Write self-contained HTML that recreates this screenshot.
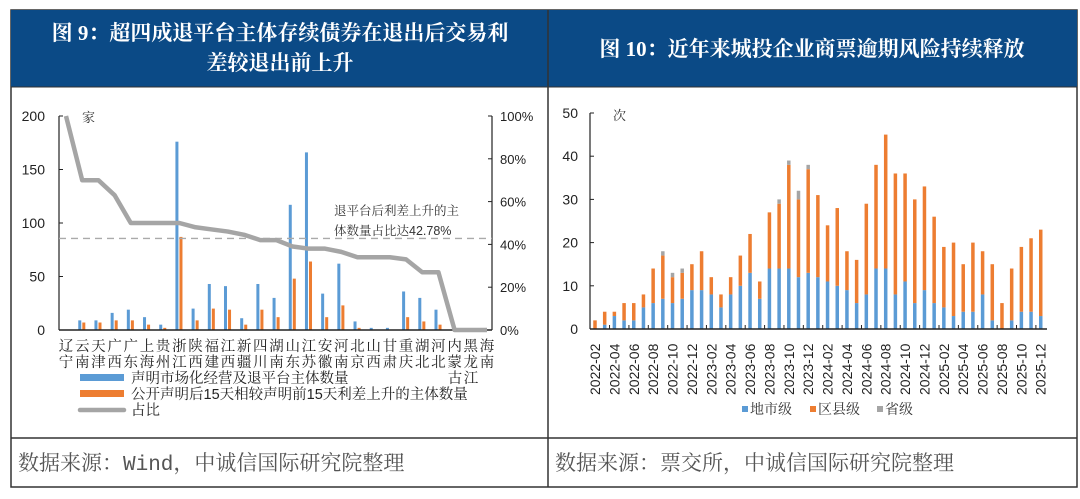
<!DOCTYPE html>
<html><head><meta charset="utf-8"><style>
body{margin:0;background:#fff;width:1080px;height:494px;overflow:hidden;font-family:"Liberation Sans","Noto Sans CJK SC",sans-serif}
svg text{font-family:"Liberation Sans","Noto Sans CJK SC",sans-serif}
svg text.cj{font-family:"Liberation Sans","Noto Serif CJK SC",serif}
.t{font-family:"Liberation Serif","Noto Serif CJK SC",serif !important;font-weight:bold;fill:#fff;font-size:21px}
.src{font-family:"Liberation Mono","Noto Serif CJK SC",serif !important;font-size:21px;fill:#555}
</style></head><body>
<svg id="s" width="1080" height="494">
<rect x="11" y="10" width="1066" height="477" fill="#fff" stroke="#333" stroke-width="1.5"/>
<rect x="11" y="10" width="1066" height="77" fill="#0b4a86"/>
<line x1="548" y1="10" x2="548" y2="487" stroke="#333" stroke-width="1.5"/>
<line x1="11" y1="87" x2="1077" y2="87" stroke="#333"/>
<line x1="11" y1="438" x2="1077" y2="438" stroke="#333" stroke-width="1.5"/>
<text class="t" x="280" y="40" text-anchor="middle">图 9：超四成退平台主体存续债券在退出后交易利</text>
<text class="t" x="280" y="70" text-anchor="middle">差较退出前上升</text>
<text class="t" x="812" y="56" text-anchor="middle">图 10：近年来城投企业商票逾期风险持续释放</text>
<text class="src" x="18" y="470">数据来源：Wind，中诚信国际研究院整理</text>
<text class="src" x="555" y="470">数据来源：票交所，中诚信国际研究院整理</text>
<g id="L"></g><g id="R"></g>
</svg>
<script>
// Left chart data
const provTop=["辽","云","天","广","广","上","贵","浙","陕","福","江","新","四","湖","山","江","安","河","北","山","甘","重","湖","河","内","黑","海"];
const provBot=["宁","南","津","西","东","海","州","江","西","建","西","疆","川","南","东","苏","徽","南","京","西","肃","庆","北","北","蒙","龙","南"];
const exitCount=[9,9,16,19,12,5,176,20,43,41,11,43,30,117,166,34,62,8,2,2,36,30,19,0,0,0,0];
const riseCount=[7,7,9,9,5,2,87,9,20,19,5,19,12,48,64,12,23,2,0,0,12,8,5,0,0,0,0];
const ratio=[100,70,70,63,50,50,50,50,48,47,46,44.5,42,42,39,38,38,36.5,34,34,34,33,27,27,0,0,0];
const leftTicks=[0,50,100,150,200];
const rightTicks=[0,20,40,60,80,100];
const avgRatio=42.78;
// Right chart data
const months=[];for(let y=2022;y<=2025;y++)for(let m=1;m<=12;m++){if(y===2022&&m<2)continue;months.push(y+"-"+String(m).padStart(2,"0"));}
const cityLevel=[0,1,3,2,2,5,6,7,6,7,9,9,8,5,8,10,13,7,14,14,14,12,13,12,11,10,9,6,8,14,14,8,11,6,9,6,5,3,4,4,8,2,0,2,4,4,3];
const totalCount=[2,4,4,6,6,8,14,18,13,14,15,18,12,8,12,17,22,11,27,30,39,32,38,31,24,28,18,16,29,38,45,36,36,30,33,26,19,20,15,20,18,15,6,14,19,21,23];
const provLevel=[0,0,0,0,0,0,0,1,1,1,0,0,0,0,0,0,0,0,0,1,1,2,1,0,0,0,0,0,0,0,0,0,0,0,0,0,0,0,0,0,0,0,0,0,0,0,0];
const countyLevel=totalCount.map((t,i)=>t-cityLevel[i]-provLevel[i]);
const rTicks=[0,10,20,30,40,50];

const NS="http://www.w3.org/2000/svg";
function mk(p,tag,a,txt){const e=document.createElementNS(NS,tag);for(const k in a)e.setAttribute(k,a[k]);if(txt!==undefined)e.textContent=txt;p.appendChild(e);return e;}
// LEFT
const L=document.getElementById("L");
const lx0=59,lx1=492,ly0=330,ly1=116;
const lxs=i=>66+i*(487-66)/(provTop.length-1);
const lys=v=>ly0-(v/200)*(ly0-ly1);
const lyr=v=>ly0-(v/100)*(ly0-ly1);
leftTicks.forEach(t=>{let e=mk(L,"text",{x:45,y:lys(t)+5,"text-anchor":"end","font-size":14,fill:"#222"},t);


mk(L,"line",{x1:lx0,x2:lx0+4,y1:lys(t),y2:lys(t),stroke:"#222"});});
rightTicks.forEach(t=>{let e=mk(L,"text",{x:500,y:lyr(t)+5,"font-size":13,fill:"#222"},t+"%");


mk(L,"line",{x1:lx1-4,x2:lx1,y1:lyr(t),y2:lyr(t),stroke:"#222"});});
mk(L,"line",{x1:lx0,x2:lx0,y1:ly1,y2:ly0,stroke:"#222","stroke-width":1.2});
mk(L,"line",{x1:lx1,x2:lx1,y1:ly1,y2:ly0,stroke:"#222","stroke-width":1.2});
let u=mk(L,"text",{x:82,y:122,"font-size":13,fill:"#333",class:"cj"},"家");


const step=(487-66)/(provTop.length-1);
exitCount.forEach((v,i)=>{let b=mk(L,"rect",{x:lxs(i)+step*0.85-1.5,y:lys(v),width:3,height:ly0-lys(v),fill:"#5b9bd5"});

});
riseCount.forEach((v,i)=>{let b=mk(L,"rect",{x:lxs(i)+step*1.1-1.5,y:lys(v),width:3,height:ly0-lys(v),fill:"#ed7d31"});

});
mk(L,"line",{x1:lx0,x2:lx1,y1:ly0,y2:ly0,stroke:"#222","stroke-width":1.5});
let dl=mk(L,"line",{x1:lx0,x2:lx1,y1:lyr(avgRatio),y2:lyr(avgRatio),stroke:"#aaa","stroke-width":1.3,"stroke-dasharray":"7,5"});


let rl=mk(L,"polyline",{points:ratio.map((v,i)=>lxs(i)+","+lyr(v)).join(" "),fill:"none",stroke:"#a5a5a5","stroke-width":4.5,"stroke-linejoin":"round"});


let a1=mk(L,"text",{x:334,y:215,"font-size":12.5,fill:"#333",class:"cj"},"退平台后利差上升的主");


let a2=mk(L,"text",{x:334,y:235,"font-size":12.5,fill:"#333",class:"cj"},"体数量占比达42.78%");


provTop.forEach((c,i)=>{let e=mk(L,"text",{x:lxs(i),y:351,"text-anchor":"middle","font-size":14.5,fill:"#222",class:"cj"},c);


let f=mk(L,"text",{x:lxs(i),y:367,"text-anchor":"middle","font-size":14.5,fill:"#222",class:"cj"},provBot[i]);

});
[[455,383,"古"],[471,383,"江"]].forEach(a=>{let e=mk(L,"text",{x:a[0],y:a[1],"text-anchor":"middle","font-size":14.5,fill:"#222",class:"cj"},a[2]);

});
[["#5b9bd5","声明市场化经营及退平台主体数量",383],["#ed7d31","公开声明后15天相较声明前15天利差上升的主体数量",399],["#a5a5a5","占比",415]].forEach((l,i)=>{
let g=mk(L,"g",{});


if(i<2)mk(g,"rect",{x:80,y:l[2]-9,width:44,height:7,fill:l[0]});else mk(g,"line",{x1:80,x2:124,y1:l[2]-5,y2:l[2]-5,stroke:l[0],"stroke-width":4.5,"stroke-linecap":"round"});
mk(g,"text",{x:131,y:l[2],"font-size":14.5,fill:"#222",class:"cj"},l[1]);});
// RIGHT
const R=document.getElementById("R");
const rx0=590,rx1=1047,ry0=329,ry1=113;
const rxs=i=>595+i*9.69;
const rys=v=>ry0-(v/50)*(ry0-ry1);
rTicks.forEach(t=>{let e=mk(R,"text",{x:578,y:rys(t)+5,"text-anchor":"end","font-size":14,fill:"#222"},t);


mk(R,"line",{x1:rx0,x2:rx0+4,y1:rys(t),y2:rys(t),stroke:"#222"});});
mk(R,"line",{x1:rx0,x2:rx0,y1:ry1,y2:ry0,stroke:"#222","stroke-width":1.2});
let u2=mk(R,"text",{x:613,y:120,"font-size":13,fill:"#333",class:"cj"},"次");


months.forEach((m,i)=>{const x=rxs(i)-1.75;let y=ry0;
[[cityLevel[i],"#5b9bd5","bar-city-level"],[countyLevel[i],"#ed7d31","bar-county-level"],[provLevel[i],"#a5a5a5","bar-province-level"]].forEach(s=>{
if(s[0]<=0)return;const h=ry0-rys(s[0]);let b=mk(R,"rect",{x:x,y:y-h,width:3.5,height:h,fill:s[1]});y-=h;

});
if(i%2===1)mk(R,"line",{x1:rxs(i)+4.85,x2:rxs(i)+4.85,y1:ry0,y2:ry0-4,stroke:"#222"});
if(i%2===0){let e=mk(R,"text",{transform:`translate(${rxs(i)+5},395) rotate(-90)`,"font-size":14,fill:"#222"},m);

}});
mk(R,"line",{x1:rx0,x2:rx1,y1:ry0,y2:ry0,stroke:"#222","stroke-width":1.5});
[["#5b9bd5","地市级",750],["#ed7d31","区县级",818],["#a5a5a5","省级",885]].forEach(l=>{
let g=mk(R,"g",{});


mk(g,"rect",{x:l[2]-8,y:406,width:6,height:6,fill:l[0]});
mk(g,"text",{x:l[2],y:414,"font-size":14,fill:"#333",class:"cj"},l[1]);});
</script>
</body></html>
